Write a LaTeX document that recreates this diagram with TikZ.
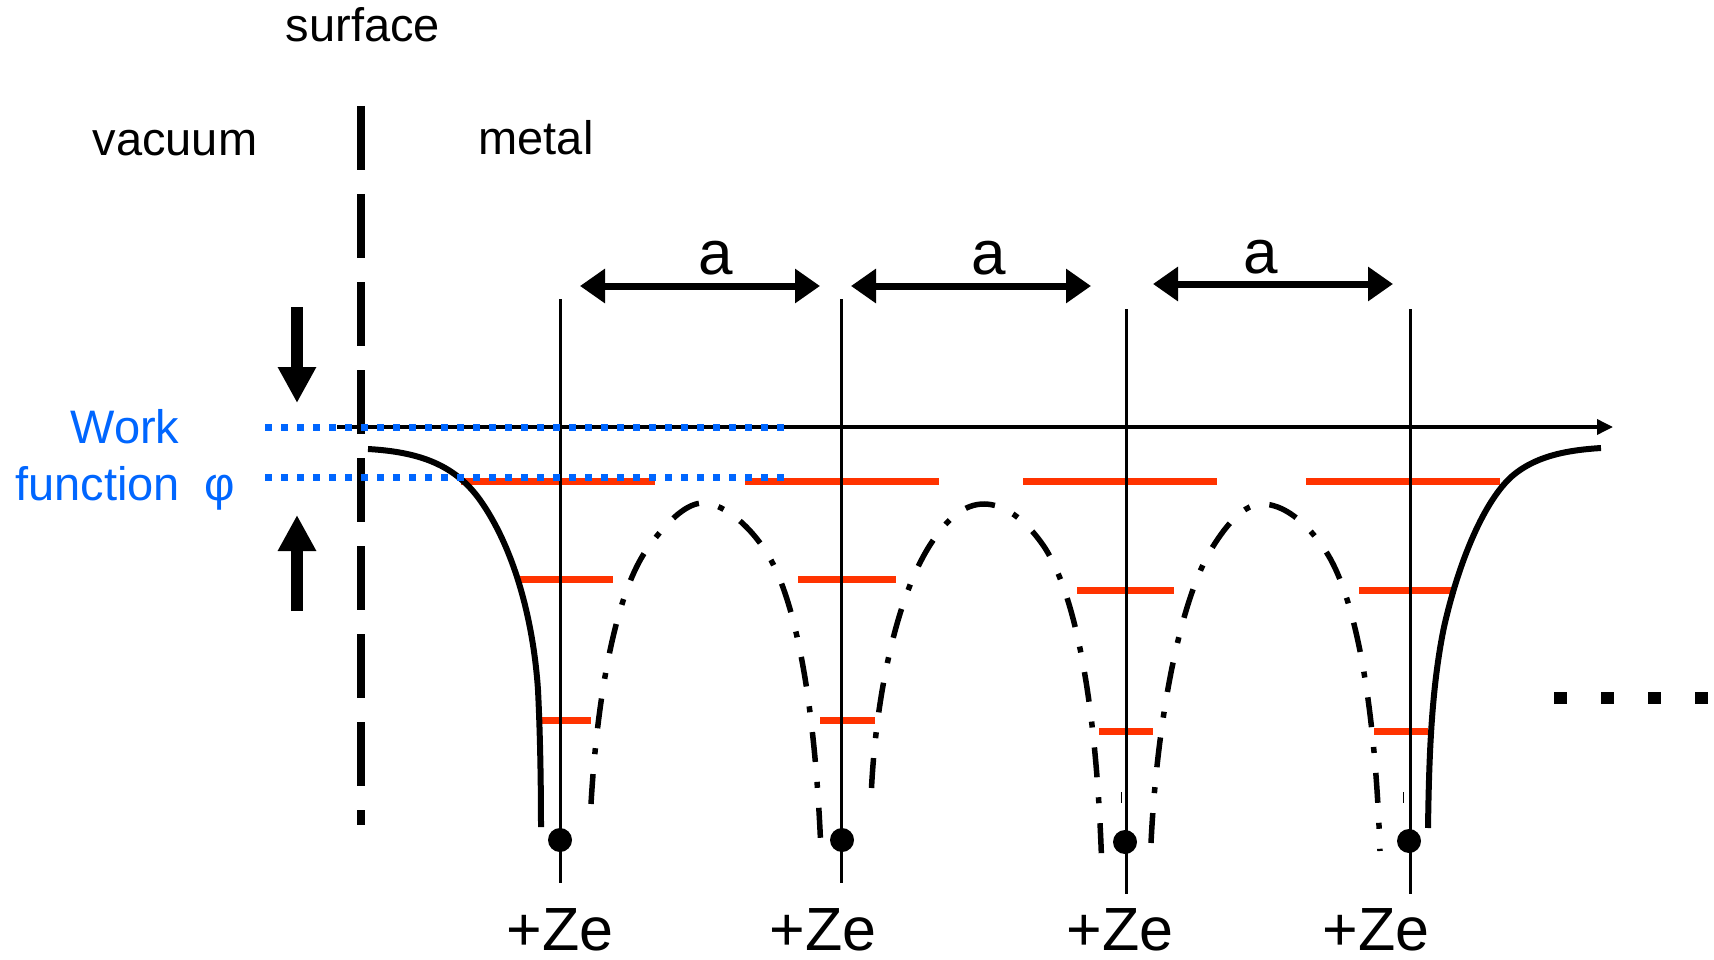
\documentclass[tikz,border=0pt]{standalone}
\usepackage{fontspec}
\setmainfont{Liberation Sans}
\usetikzlibrary{arrows.meta}
\definecolor{wfblue}{RGB}{0,102,255}
\definecolor{lvlred}{RGB}{255,51,0}
\begin{document}
\begin{tikzpicture}[x=1pt,y=-1pt,
  lbl/.style={anchor=base, inner sep=0pt, font=\fontsize{47}{56}\selectfont},
  biglbl/.style={anchor=base, inner sep=0pt, font=\fontsize{62}{70}\selectfont},
  zelbl/.style={anchor=base, inner sep=0pt, font=\fontsize{61}{70}\selectfont},
  level/.style={draw=lvlred, line width=7pt},
  ion/.style={draw=black, line width=3pt},
  nucleus/.style={circle, fill=black, inner sep=0pt, minimum size=24pt},
  surfline/.style={draw=black, line width=8pt, dash pattern=on 64pt off 24pt},
  axisline/.style={draw=black, line width=3.5pt, -{Triangle[length=16pt,width=15pt]}},
  wfdots/.style={draw=wfblue, line width=7pt, dash pattern=on 7pt off 9pt},
  bigarrow/.style={draw=black, line width=12pt, -{Triangle[length=36pt,width=36pt]}},
  latarrow/.style={draw=black, line width=7pt, {Triangle[length=25pt,width=33pt]}-{Triangle[length=25pt,width=33pt]}},
  potsolid/.style={draw=black, line width=6pt},
  potdash/.style={draw=black, line width=5.5pt, dash pattern=on 30pt off 20pt on 6pt off 20pt},
  etc/.style={draw=black, line width=12pt, dash pattern=on 13pt off 34pt}
]
\useasboundingbox (0,0) rectangle (1714,960);

% energy levels
\foreach \a/\b/\y in {461/655/481.5, 745/939/481.5, 1023/1217/481.5, 1306/1500/481.5,
                      516/613/579, 798/896/579, 1077/1174/590.5, 1359/1456/590.5,
                      538/591/720.5, 820/874.5/720.5, 1099/1153/731.5, 1374/1428/731.5}
  \draw[level] (\a,\y) -- (\b,\y);

% surface
\coordinate (s0) at (361,106);
\coordinate (s1) at (361,825);
\draw[surfline] (s0) -- (s1);

% ion lines
\coordinate (t1) at (560,299);  \coordinate (b1) at (560,883);
\coordinate (t2) at (841,299);  \coordinate (b2) at (841,883);
\coordinate (t3) at (1126,309); \coordinate (b3) at (1126,894);
\coordinate (t4) at (1410,309); \coordinate (b4) at (1410,894);
\draw[ion] (t1) -- (b1);
\draw[ion] (t2) -- (b2);
\draw[ion] (t3) -- (b3);
\draw[ion] (t4) -- (b4);
\node[nucleus] (n1) at (560,840) {};
\node[nucleus] (n2) at (842,840) {};
\node[nucleus] (n3) at (1125,842) {};
\node[nucleus] (n4) at (1409,841) {};

% axis
\coordinate (ax0) at (337,427);
\coordinate (ax1) at (1613,427);
\draw[axisline] (ax0) -- (ax1);

% potential curves
\draw[potsolid] (368,449) .. controls (420,452) and (455,465) .. (480,500)
  .. controls (512,545) and (533,615) .. (538,690)
  .. controls (540,730) and (541,780) .. (541,827);
\draw[potsolid] (1428,828) .. controls (1429,760) and (1431,690) .. (1444,627)
  .. controls (1458,565) and (1482,505) .. (1510,478)
  .. controls (1535,455) and (1570,450) .. (1601,448);
\draw[potdash] (591,804) .. controls (597,700) and (615,590) .. (650,545)
  .. controls (670,518) and (688,503) .. (703,503)
  .. controls (720,503) and (745,520) .. (765,550)
  .. controls (795,595) and (815,700) .. (821,852);
\draw[potdash] (871.5,788) .. controls (876,700) and (895,600) .. (930,545)
  .. controls (948,517) and (965,504) .. (984,504)
  .. controls (1003,504) and (1025,518) .. (1045,548)
  .. controls (1075,595) and (1097,700) .. (1102,873);
\draw[potdash] (1151,843) .. controls (1157,720) and (1180,600) .. (1212,548)
  .. controls (1228,522) and (1245,504) .. (1262,504)
  .. controls (1282,504) and (1305,520) .. (1325,550)
  .. controls (1355,595) and (1375,700) .. (1380,851);
\draw[line width=1pt] (1121,792) -- (1121,803);
\draw[line width=1pt] (1403,792) -- (1403,803);

% work function markers
\coordinate (w0) at (265,427); \coordinate (w1) at (785,427);
\coordinate (f0) at (265,477); \coordinate (f1) at (785,477);
\draw[wfdots] (w0) -- (w1);
\draw[wfdots] (f0) -- (f1);
\coordinate (d0) at (297,307); \coordinate (d1) at (297,403);
\coordinate (u0) at (297,611); \coordinate (u1) at (297,515);
\draw[bigarrow] (d0) -- (d1);
\draw[bigarrow] (u0) -- (u1);

% lattice spacing arrows
\coordinate (a1l) at (580,286);  \coordinate (a1r) at (820,286);
\coordinate (a2l) at (851,286);  \coordinate (a2r) at (1091,286);
\coordinate (a3l) at (1153,284); \coordinate (a3r) at (1393,284);
\draw[latarrow] (a1l) -- (a1r);
\draw[latarrow] (a2l) -- (a2r);
\draw[latarrow] (a3l) -- (a3r);
\node[biglbl] (la1) at (716,275) {a};
\node[biglbl] (la2) at (989,275) {a};
\node[biglbl] (la3) at (1261,273) {a};

% continuation dots
\coordinate (e0) at (1554,697.5); \coordinate (e1) at (1714,697.5);
\draw[etc] (e0) -- (e1);

% labels
\node[lbl] (surf) at (363,42) {surface};
\node[lbl] (vac) at (175,156) {vacuum};
\node[lbl] (met) at (536,155) {metal};
\node[lbl, text=wfblue] (wf1) at (125,443) {Work};
\node[lbl, text=wfblue] (wf2) at (125,500) {function\hspace{24pt}φ};
\node[zelbl] (z1) at (560,950) {+Ze};
\node[zelbl] (z2) at (823,950) {+Ze};
\node[zelbl] (z3) at (1120,950) {+Ze};
\node[zelbl] (z4) at (1376,950) {+Ze};
\end{tikzpicture}
\end{document}
